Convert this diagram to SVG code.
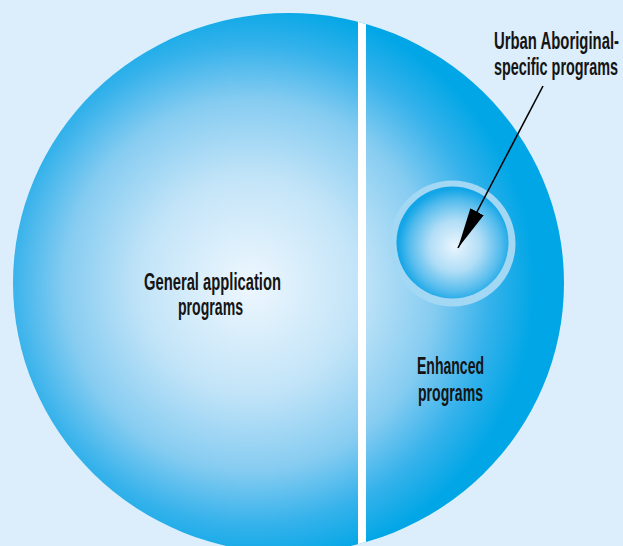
<svg xmlns="http://www.w3.org/2000/svg" width="623" height="546" viewBox="0 0 623 546">
  <style>
    .lbl { font-family: "Liberation Sans", "DejaVu Sans", Arial, sans-serif; font-size: 23px; font-weight: bold; fill: #141414; }
  </style>
  <defs>
    <radialGradient id="bigGrad" gradientUnits="userSpaceOnUse" cx="250" cy="285" r="285">
      <stop offset="0" stop-color="#EEF7FE"/>
      <stop offset="0.38" stop-color="#C2E4F8"/>
      <stop offset="0.65" stop-color="#86CCF1"/>
      <stop offset="0.84" stop-color="#36B2EB"/>
      <stop offset="1" stop-color="#00A6E6"/>
    </radialGradient>
    <radialGradient id="smallGrad" gradientUnits="userSpaceOnUse" cx="455" cy="246" r="57">
      <stop offset="0" stop-color="#EAF6FE"/>
      <stop offset="0.45" stop-color="#B0DDF6"/>
      <stop offset="0.8" stop-color="#55BCED"/>
      <stop offset="1" stop-color="#12A5E7"/>
    </radialGradient>
    <clipPath id="ellClip">
      <ellipse cx="288.5" cy="283" rx="275.5" ry="270"/>
    </clipPath>
    <marker id="arrowHead" markerUnits="userSpaceOnUse" markerWidth="42" markerHeight="16" refX="41" refY="7.5" orient="auto">
      <path d="M0,0 L41,7.5 L0,15 Z" fill="#000"/>
    </marker>
  </defs>

  <rect x="0" y="0" width="623" height="546" fill="#DCEEFB"/>

  <g id="node-general">
    <g clip-path="url(#ellClip)">
      <rect x="0" y="0" width="362" height="546" fill="url(#bigGrad)"/>
    </g>
    <text class="lbl" x="144" y="290" textLength="137" lengthAdjust="spacingAndGlyphs">General application</text>
    <text class="lbl" x="178" y="315" textLength="65" lengthAdjust="spacingAndGlyphs">programs</text>
  </g>

  <g id="node-enhanced">
    <g clip-path="url(#ellClip)">
      <rect x="362" y="0" width="261" height="546" fill="url(#bigGrad)"/>
    </g>
    <text class="lbl" x="417" y="374" textLength="67" lengthAdjust="spacingAndGlyphs">Enhanced</text>
    <text class="lbl" x="418" y="401" textLength="65" lengthAdjust="spacingAndGlyphs">programs</text>
  </g>

  <g id="divider" clip-path="url(#ellClip)">
    <rect x="358" y="0" width="8" height="546" fill="#FFFFFF"/>
  </g>

  <g id="node-urban">
    <circle cx="452.5" cy="243.5" r="63" fill="#A3D8F5"/>
    <circle cx="452.5" cy="242.5" r="56" fill="url(#smallGrad)"/>
  </g>

  <g id="label-urban">
    <text class="lbl" x="494" y="49" textLength="125" lengthAdjust="spacingAndGlyphs">Urban Aboriginal-</text>
    <text class="lbl" x="494" y="75" textLength="124" lengthAdjust="spacingAndGlyphs">specific programs</text>
  </g>

  <g id="connectors">
    <line x1="543" y1="86" x2="458" y2="248" stroke="#000" stroke-width="1.6" marker-end="url(#arrowHead)"/>
  </g>
</svg>
